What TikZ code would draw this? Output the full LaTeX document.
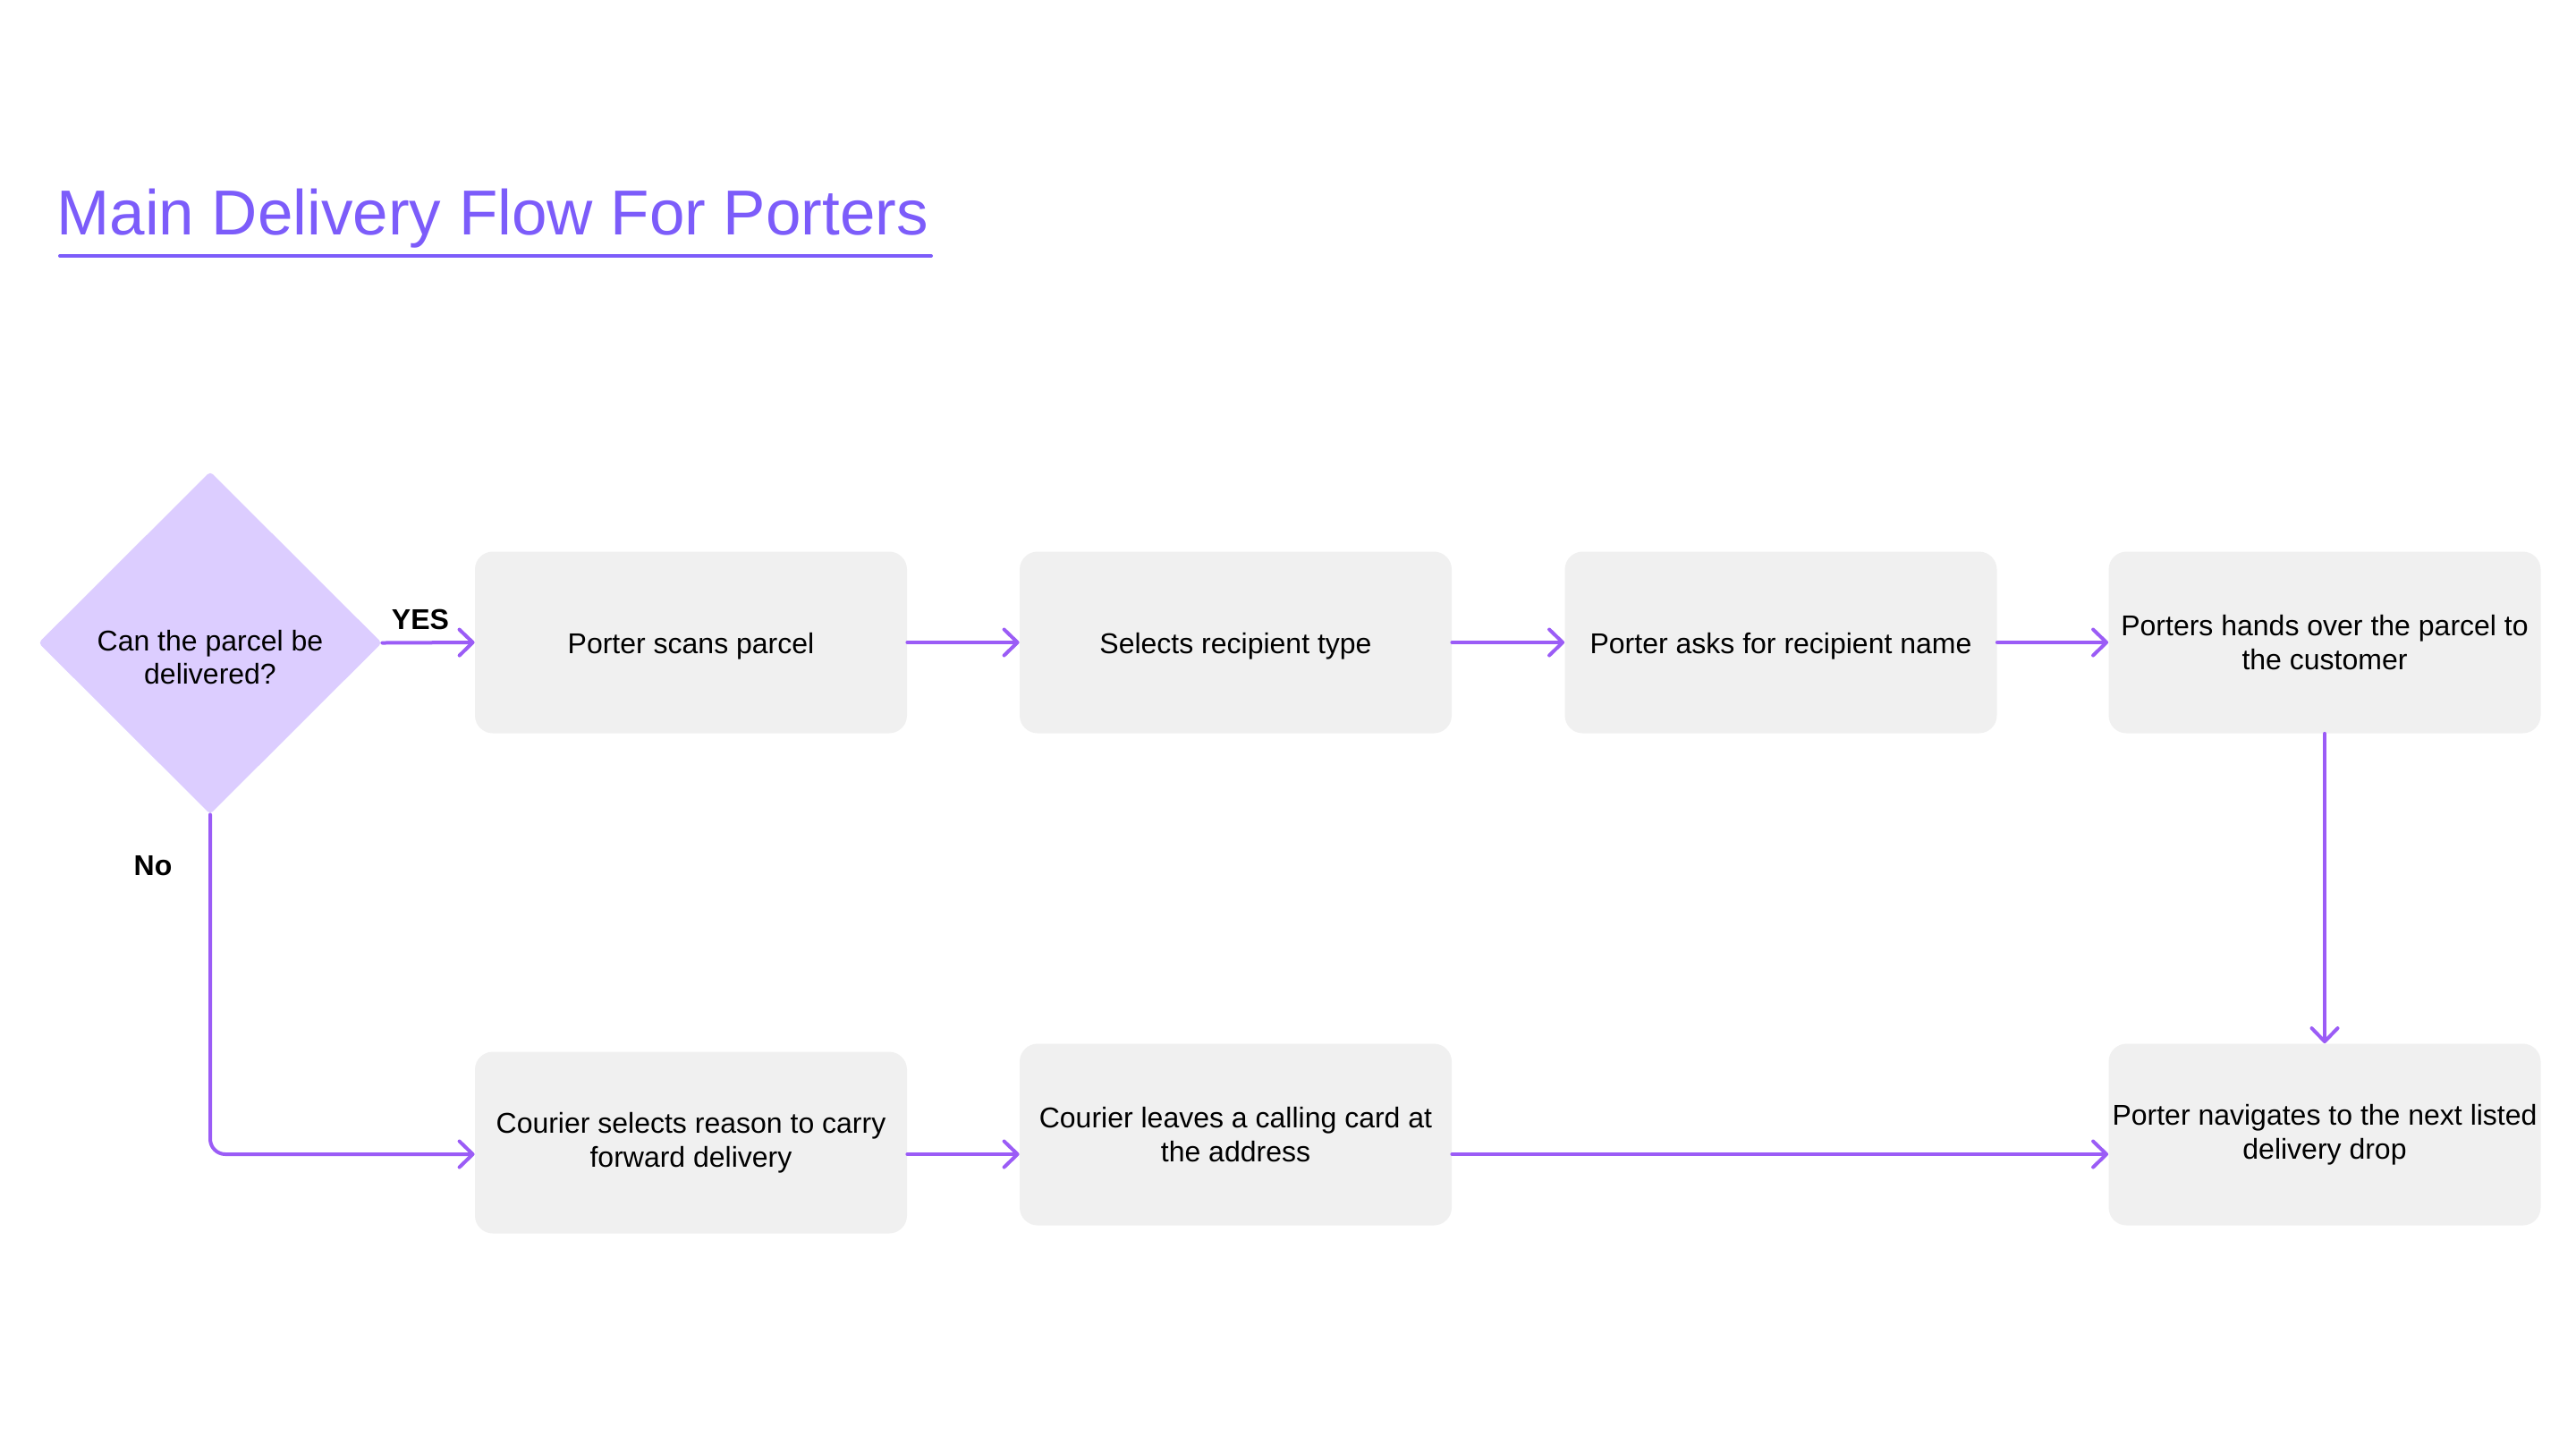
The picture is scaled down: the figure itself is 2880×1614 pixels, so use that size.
\documentclass[tikz,border=0pt]{standalone}
\usepackage{fontspec}
\setmainfont{Liberation Sans}
\usetikzlibrary{arrows.meta,shapes.geometric}
\definecolor{flowline}{RGB}{155,92,246}
\definecolor{titlecol}{RGB}{124,92,250}
\definecolor{diafill}{RGB}{220,205,255}
\definecolor{boxfill}{RGB}{240,240,240}
\newcommand{\lowline}[1]{\raisebox{-2pt}[\height][\depth]{#1}}
\tikzset{
  stepbox/.style={rectangle, rounded corners=10pt, fill=boxfill, draw=none,
    minimum width=241.5pt, minimum height=101.5pt, inner sep=0pt,
    align=center, font=\fontsize{16pt}{18.75pt}\selectfont, text=black},
  decision/.style={diamond, fill=diafill, draw=none, inner sep=0pt,
    minimum width=192pt, minimum height=191.5pt, rounded corners=2pt},
  difftext/.style={align=center, font=\fontsize{16pt}{18.5pt}\selectfont, text=black},
  branchlabel/.style={font=\fontsize{16pt}{18pt}\selectfont\bfseries, text=black, inner sep=0pt, anchor=base},
  flow/.style={draw=flowline, line width=2pt, line cap=round,
    -{Straight Barb[length=7.5pt,width=14.5pt,round]}},
}
\begin{document}
\begin{tikzpicture}[x=0.5pt,y=-0.5pt]
\useasboundingbox (0,0) rectangle (2880,1614);
\fill[white] (0,0) rectangle (2880,1614);

% title
\node[anchor=base west, inner sep=0pt, text=titlecol,
      font=\fontsize{35.5pt}{41pt}\selectfont] (title) at (63,262) {Main Delivery Flow For Porters};
\coordinate (ulA) at (67,286);
\coordinate (ulB) at (1041,286);
\draw[titlecol, line width=2pt, line cap=round] (ulA) -- (ulB);

% decision
\node[decision] (dia) at (235,718.5) {};
\node[difftext] (diatext) at (235,735) {Can the parcel be\\delivered?};

% top row
\node[stepbox] (t1) at (772.5,718) {\lowline{Porter scans parcel}};
\node[stepbox] (t2) at (1381.5,718) {\lowline{Selects recipient type}};
\node[stepbox] (t3) at (1991,718) {\lowline{Porter asks for recipient name}};
\node[stepbox] (t4) at (2599,718) {Porters hands over the parcel to\\the customer};

% bottom row
\node[stepbox] (b1) at (772.5,1277) {Courier selects reason to carry\\forward delivery};
\node[stepbox] (b2) at (1381.5,1268) {Courier leaves a calling card at\\the address};
\node[stepbox] (b3) at (2599,1268) {Porter navigates to the next listed\\delivery drop};

\coordinate (lowrow) at (0,1290);

% labels
\node[branchlabel] (yes) at (470,703) {YES};
\node[branchlabel] (no) at (171,978) {No};

% connectors
\draw[flow] (dia.east) -- (t1.west);
\draw[flow] (t1.east) -- (t2.west);
\draw[flow] (t2.east) -- (t3.west);
\draw[flow] (t3.east) -- (t4.west);
\draw[flow] (t4.south) -- (b3.north);
\draw[flow, rounded corners=8.5pt] (dia.south) |- (b1.west |- lowrow);
\draw[flow] (b1.east |- lowrow) -- (b2.west |- lowrow);
\draw[flow] (b2.east |- lowrow) -- (b3.west |- lowrow);
\end{tikzpicture}
\end{document}
